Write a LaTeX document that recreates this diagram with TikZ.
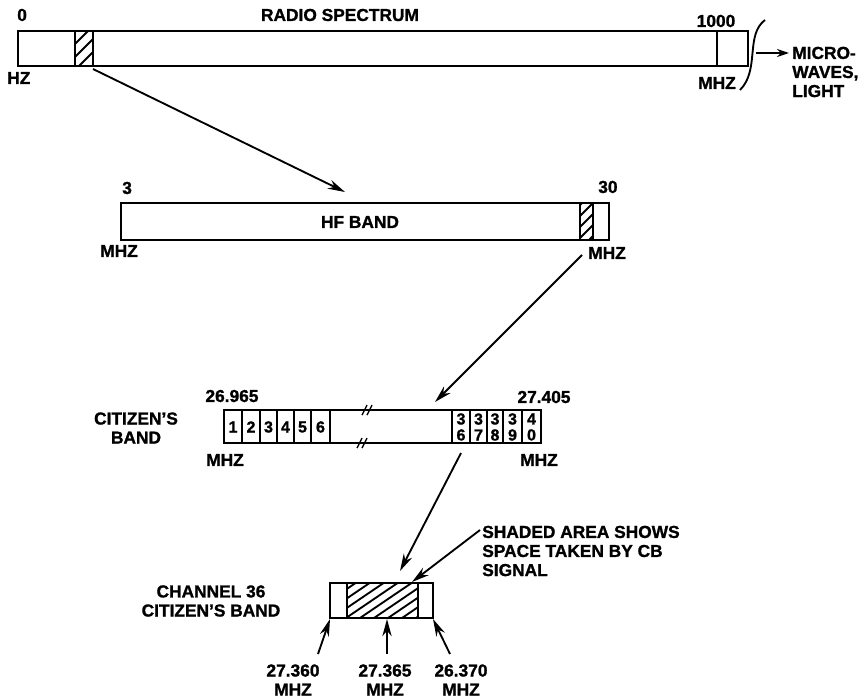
\documentclass[tikz,border=0pt]{standalone}
\usepackage{fontspec}
\setmainfont{Liberation Sans}[BoldFeatures={FakeBold=1.2}]
\usetikzlibrary{arrows.meta}
\begin{document}
\begin{tikzpicture}[x=0.75pt,y=-0.75pt,
  lbl/.style={font=\bfseries\fontsize{13}{14.3}\selectfont, inner sep=0pt},
  cell/.style={font=\bfseries\fontsize{12}{11}\selectfont, inner sep=0pt},
  bar/.style={line width=1.7pt},
  hat/.style={line width=1.4pt},
  brk/.style={line width=1pt},
  conn/.style={line width=1.4pt, -{Stealth[length=13pt,width=7pt]}},
]
\useasboundingbox (0,0) rectangle (866,699);

% ---------- Radio spectrum ----------
\begin{scope}
  \clip (75,31) rectangle (93,66);
  \foreach \i in {40,53,...,95} \draw[hat] (\i,66) -- ++(36,-36);
\end{scope}
\draw[bar] (18,31) rectangle (748,66);
\draw[bar] (75,31) -- (75,66) (93,31) -- (93,66) (717,31) -- (717,66);
\draw[line width=1.4pt] (765,20) .. controls (745,35) and (760,70) .. (740,90);
\node[lbl, anchor=west] (zero) at (17,15) {0};
\node[lbl, anchor=west] (hz) at (7,78) {HZ};
\node[lbl] (radio) at (340,15) {RADIO SPECTRUM};
\node[lbl] (thou) at (716,21) {1000};
\node[lbl] (mhz1) at (717,83) {MHZ};
\node[lbl, anchor=west, align=left] (micro) at (792,72) {MICRO-\\WAVES,\\LIGHT};
\coordinate (mwA) at (756,53);
\coordinate (mwB) at (789,53);
\draw[line width=1.4pt, -{Stealth[length=9pt,width=6pt]}] (mwA) -- (mwB);

% ---------- HF band ----------
\begin{scope}
  \clip (580,203) rectangle (593,240);
  \foreach \i in {545,556,...,600} \draw[hat] (\i,240) -- ++(38,-38);
\end{scope}
\draw[bar] (121,203) rectangle (609,240);
\draw[bar] (580,203) -- (580,240) (593,203) -- (593,240);
\node[lbl] (hf) at (360,222) {HF BAND};
\node[lbl, anchor=west] (three) at (122,188) {3};
\node[lbl, anchor=west] (thirty) at (598,187) {30};
\node[lbl, anchor=west] (mhzL) at (100,251) {MHZ};
\node[lbl, anchor=west] (mhzR) at (588,253) {MHZ};

\coordinate (a1s) at (93,69);
\coordinate (a1e) at (345,192);
\draw[conn] (a1s) -- (a1e);
\coordinate (a2s) at (582,255);
\coordinate (a2e) at (435,402);
\draw[conn] (a2s) -- (a2e);

% ---------- Citizen's band ----------
\draw[bar] (224,410) rectangle (541,443);
\foreach \x in {242,260,277,294,311,330,452,470,487,503,522}
  \draw[bar] (\x,410) -- (\x,443);
\foreach \t/\c in {1/233,2/251,3/268.5,4/285.5,5/302.5,6/320.5}
  \node[cell] at (\c,427) {\t};
\foreach \a/\b/\c in {3/6/461,3/7/478.5,3/8/495,3/9/512.5,4/0/531.5}
  \node[cell, align=center, font=\bfseries\fontsize{12}{12}\selectfont] at (\c,427) {\a\\\b};
% break marks
\foreach \x/\y in {368/410,363/443}{
  \draw[brk] (\x-6,\y+5) -- (\x-1,\y-5);
  \draw[brk] (\x-1,\y+5) -- (\x+4,\y-5);
}
\node[lbl] (cbA) at (232,396) {26.965};
\node[lbl] (cbB) at (544,397) {27.405};
\node[lbl] (cbC) at (225,460) {MHZ};
\node[lbl] (cbD) at (539,460) {MHZ};
\node[lbl, align=center] (cbname) at (136,428) {CITIZEN'S\\BAND};

\coordinate (a3s) at (461,453);
\coordinate (a3e) at (400,571);
\draw[conn] (a3s) -- (a3e);

% ---------- Channel 36 ----------
\begin{scope}
  \clip (347,583) rectangle (418,618);
  \foreach \i in {290,304,...,420} \draw[hat] (\i,618) -- ++(56,-38);
\end{scope}
\draw[bar] (330,583) rectangle (433,618);
\draw[bar] (347,583) -- (347,618) (418,583) -- (418,618);
\node[lbl, align=center] (ch36) at (211,601) {CHANNEL 36\\CITIZEN'S BAND};
\node[lbl, anchor=west, align=left] (shade) at (482,551) {SHADED AREA SHOWS\\SPACE TAKEN BY CB\\SIGNAL};
\coordinate (a4s) at (480,530);
\coordinate (a4e) at (412,582);
\draw[conn] (a4s) -- (a4e);

\node[lbl, align=center] (f1) at (293,680) {27.360\\MHZ};
\node[lbl, align=center] (f2) at (385,680) {27.365\\MHZ};
\node[lbl, align=center] (f3) at (461,680) {26.370\\MHZ};
\coordinate (b1s) at (318,654);
\coordinate (b1e) at (330,619);
\coordinate (b2s) at (387,654);
\coordinate (b2e) at (387,619);
\coordinate (b3s) at (450,654);
\coordinate (b3e) at (433,619);
\draw[conn] (b1s) -- (b1e);
\draw[conn] (b2s) -- (b2e);
\draw[conn] (b3s) -- (b3e);
\end{tikzpicture}
\end{document}
